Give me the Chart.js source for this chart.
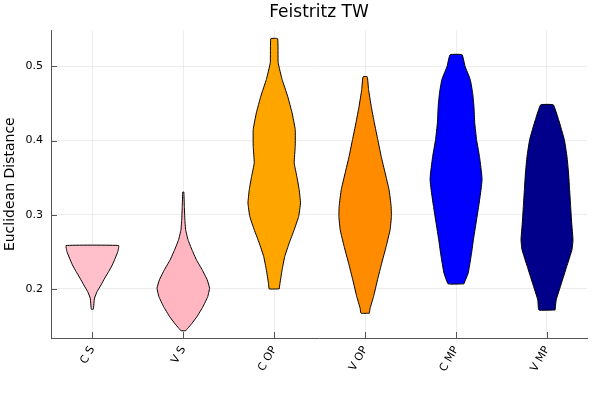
<!DOCTYPE html>
<html>
<head>
<meta charset="utf-8">
<script src="https://cdn.jsdelivr.net/npm/chart.js@4.4.0/dist/chart.umd.min.js"></script>
<style>
  html, body { margin: 0; padding: 0; background: #fff; }
</style>
</head>
<body>
<canvas id="violins" width="600" height="400"></canvas>
<script>
var categories = ['C S', 'V S', 'C OP', 'V OP', 'C MP', 'V MP'];
var colors = ['pink', 'lightpink', 'orange', 'darkorange', 'blue', 'darkblue'];
var yTicks = [0.2, 0.3, 0.4, 0.5];

// violin outlines: levels top to bottom, relative half-width at each level
var csLevels = [0.2585, 0.2504, 0.2415, 0.2324, 0.2234, 0.2145, 0.2054, 0.1964, 0.1874, 0.1726];
var csWidths = [1.00, 0.97, 0.87, 0.76, 0.62, 0.47, 0.33, 0.18, 0.08, 0.04];

var vsLevels = [0.3307, 0.3112, 0.2932, 0.2797, 0.2662, 0.2527, 0.2392, 0.2257, 0.2122, 0.2010, 0.1896, 0.1761, 0.1626, 0.1536, 0.1469, 0.1436];
var vsWidths = [0.02, 0.04, 0.06, 0.09, 0.18, 0.33, 0.50, 0.72, 0.91, 1.00, 0.93, 0.75, 0.52, 0.33, 0.17, 0.09];

var copLevels = [0.5374, 0.5050, 0.4824, 0.4599, 0.4374, 0.4149, 0.3923, 0.3699, 0.3518, 0.3338, 0.3158, 0.2977, 0.2797, 0.2618, 0.2436, 0.2257, 0.2077, 0.2000];
var copWidths = [0.13, 0.15, 0.30, 0.51, 0.68, 0.80, 0.80, 0.76, 0.86, 0.95, 1.00, 0.93, 0.76, 0.57, 0.40, 0.30, 0.22, 0.19];

var vopLevels = [0.4861, 0.4689, 0.4464, 0.4239, 0.4014, 0.3788, 0.3564, 0.3338, 0.3112, 0.2977, 0.2797, 0.2572, 0.2347, 0.2122, 0.1896, 0.1739, 0.1672];
var vopWidths = [0.08, 0.13, 0.23, 0.35, 0.48, 0.61, 0.76, 0.91, 0.99, 1.00, 0.95, 0.80, 0.63, 0.47, 0.32, 0.19, 0.16];

var cmpLevels = [0.5158, 0.5004, 0.4824, 0.4645, 0.4464, 0.4239, 0.4014, 0.3788, 0.3564, 0.3473, 0.3338, 0.3112, 0.2888, 0.2662, 0.2436, 0.2212, 0.2068];
var cmpWidths = [0.23, 0.34, 0.54, 0.63, 0.68, 0.71, 0.78, 0.89, 0.97, 0.99, 0.95, 0.86, 0.76, 0.66, 0.57, 0.46, 0.30];

var vmpLevels = [0.4482, 0.4284, 0.4014, 0.3788, 0.3564, 0.3338, 0.3112, 0.2888, 0.2662, 0.2527, 0.2301, 0.2077, 0.1851, 0.1716];
var vmpWidths = [0.24, 0.44, 0.66, 0.76, 0.82, 0.86, 0.90, 0.94, 0.99, 0.95, 0.75, 0.55, 0.35, 0.31];

var allLevels = [csLevels, vsLevels, copLevels, vopLevels, cmpLevels, vmpLevels];
var allWidths = [csWidths, vsWidths, copWidths, vopWidths, cmpWidths, vmpWidths];

var maxHalf = 0.289; // half of the widest violin, in category units

function outline(center, levels, widths) {
    var pts = [];
    // right side bottom -> top
    for (var i = levels.length - 1; i >= 0; i--) {
        pts.push({ x: center + widths[i] * maxHalf, y: levels[i] });
    }
    // left side top -> bottom
    for (var j = 0; j < levels.length; j++) {
        pts.push({ x: center - widths[j] * maxHalf, y: levels[j] });
    }
    pts.push(pts[0]);
    return pts;
}

var datasets = categories.map(function (name, i) {
    return {
        label: name,
        data: outline(i + 1, allLevels[i], allWidths[i]),
        backgroundColor: colors[i],
        borderColor: '#000',
        borderWidth: 1,
        fill: 'shape',
        pointRadius: 0,
        tension: 0.1
    };
});

// small ticks pointing into the plot, like the original
var innerTicks = {
    id: 'innerTicks',
    afterDatasetsDraw: function (chart) {
        var ctx = chart.ctx, a = chart.chartArea;
        var xs = chart.scales.x, ys = chart.scales.y;
        ctx.save();
        ctx.strokeStyle = '#555';
        ctx.lineWidth = 1;
        ctx.beginPath();
        yTicks.forEach(function (v) {
            var py = Math.round(ys.getPixelForValue(v)) + 0.5;
            ctx.moveTo(a.left, py);
            ctx.lineTo(a.left + 6, py);
        });
        categories.forEach(function (c, i) {
            var px = Math.round(xs.getPixelForValue(i + 1)) + 0.5;
            ctx.moveTo(px, a.bottom);
            ctx.lineTo(px, a.bottom - 6);
        });
        ctx.stroke();
        ctx.restore();
    }
};

Chart.defaults.font.family = '"DejaVu Sans", sans-serif';
Chart.defaults.color = '#000';

new Chart(document.getElementById('violins').getContext('2d'), {
    type: 'line',
    data: { datasets: datasets },
    options: {
        responsive: false,
        animation: false,
        layout: { padding: { left: 0, right: 13, top: 0, bottom: 0 } },
        plugins: {
            legend: { display: false },
            tooltip: { enabled: false },
            title: {
                display: true,
                text: 'Feistritz TW',
                fullSize: false,
                font: { size: 17, weight: 'normal' },
                padding: { top: 2, bottom: 8 }
            }
        },
        scales: {
            x: {
                type: 'linear',
                min: 0.545,
                max: 6.44,
                afterBuildTicks: function (s) {
                    s.ticks = categories.map(function (c, i) { return { value: i + 1 }; });
                },
                afterFit: function (s) { s.height = 62; },
                ticks: {
                    autoSkip: false,
                    minRotation: 60,
                    maxRotation: 60,
                    padding: 6,
                    font: { size: 11 },
                    callback: function (v) { return categories[Math.round(v) - 1]; }
                },
                grid: { color: 'rgba(0,0,0,0.07)', drawTicks: false },
                border: { color: '#555', width: 1 }
            },
            y: {
                min: 0.1338,
                max: 0.5486,
                afterBuildTicks: function (s) {
                    s.ticks = yTicks.map(function (v) { return { value: v }; });
                },
                afterFit: function (s) { s.width = 51; },
                ticks: {
                    padding: 8,
                    font: { size: 11 },
                    callback: function (v) { return v.toFixed(1); }
                },
                grid: { color: 'rgba(0,0,0,0.07)', drawTicks: false },
                border: { color: '#555', width: 1 },
                title: {
                    display: true,
                    text: 'Euclidean Distance',
                    font: { size: 14 },
                    padding: { top: 2, bottom: 0 }
                }
            }
        }
    },
    plugins: [innerTicks]
});
</script>
</body>
</html>
